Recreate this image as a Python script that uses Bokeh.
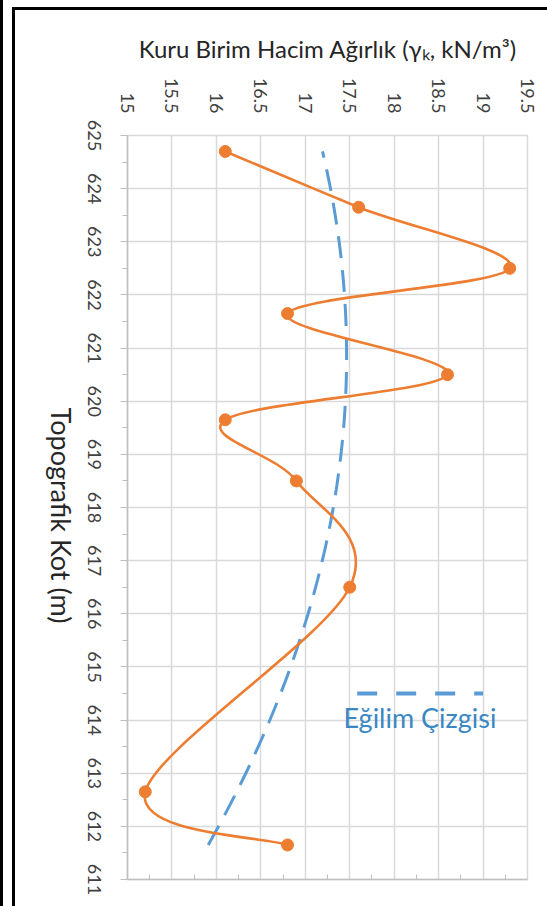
import math
import numpy as np
from bokeh.plotting import figure
from bokeh.models import Range1d, LinearAxis, FixedTicker, Label, Column, Row
from bokeh.core.properties import value
from bokeh.embed import file_html
from bokeh.resources import INLINE

# Topographic elevation (m) of each sample and its dry unit weight (kN/m3)
elevation = [624.7, 623.65, 622.5, 621.65, 620.5, 619.65, 618.5, 616.5, 612.65, 611.65]
unit_weight = [16.1, 17.6, 19.3, 16.8, 18.6, 16.1, 16.9, 17.5, 15.2, 16.8]

weight_ticks = [15, 15.5, 16, 16.5, 17, 17.5, 18, 18.5, 19, 19.5]
weight_tick_labels = ["15", "15.5", "16", "16.5", "17", "17.5", "18", "18.5", "19", "19.5"]
elev_ticks = [611, 612, 613, 614, 615, 616, 617, 618, 619, 620, 621, 622, 623, 624, 625]
elev_tick_labels = ["611", "612", "613", "614", "615", "616", "617", "618", "619",
                    "620", "621", "622", "623", "624", "625"]

legend_text = "Eğilim Çizgisi"
x_title = "Kuru Birim Hacim Ağırlık (γₖ, kN/m³)"
y_title = "Topografik Kot (m)"

FONT = "Lato"
ORANGE = "#ED7D31"
BLUE = "#5B9BD5"
GRID = "#D9D9D9"
AXIS = "#BFBFBF"
TEXT = "#404040"
TITLE = "#262626"

H = 896
TOP, BOTTOM = 125, 27
SIDE_W, MAIN_W = 102, 430
SIDE_FRAME = 64

p = figure(
    width=MAIN_W, height=H,
    x_range=Range1d(weight_ticks[0], weight_ticks[-1]),
    y_range=Range1d(elev_ticks[0], elev_ticks[-1]),
    x_axis_location="above",
    output_backend="svg", toolbar_location=None,
    min_border_left=10, min_border_top=TOP, min_border_right=20, min_border_bottom=BOTTOM,
    background_fill_color="white", border_fill_color="white",
)
p.outline_line_color = GRID
p.outline_line_width = 1.5

# top axis: weight scale, labels turned to read downward
xa = p.xaxis[0]
xa.ticker = FixedTicker(ticks=weight_ticks)
xa.major_label_overrides = {float(t): s for t, s in zip(weight_ticks, weight_tick_labels)}
xa.major_label_orientation = -math.pi / 2
xa.major_label_text_font = FONT
xa.major_label_text_font_size = "18px"
xa.major_label_text_color = TEXT
xa.major_label_standoff = 22
xa.major_tick_out = 0
xa.major_tick_in = 0
xa.minor_tick_out = 0
xa.axis_line_color = None
xa.axis_label = x_title
xa.axis_label_text_font = FONT
xa.axis_label_text_font_size = "24px"
xa.axis_label_text_font_style = "normal"
xa.axis_label_text_color = TITLE
xa.axis_label_standoff = 12

# left axis: elevation line and ticks; the labels are drawn by the side panel
ya = p.yaxis[0]
ya.ticker = FixedTicker(ticks=elev_ticks, minor_ticks=[t + 0.5 for t in elev_ticks[:-1]])
ya.major_label_text_color = None
ya.major_label_text_font_size = "1px"
ya.major_label_standoff = 0
ya.major_tick_out = 7
ya.major_tick_in = 0
ya.minor_tick_out = 5
ya.minor_tick_in = 0
ya.major_tick_line_color = AXIS
ya.minor_tick_line_color = AXIS
ya.axis_line_color = AXIS
ya.axis_line_width = 1.5

# bottom axis line with small inner ticks, no labels
bottom = LinearAxis(
    ticker=FixedTicker(ticks=weight_ticks, minor_ticks=[t + 0.25 for t in weight_ticks[:-1]]),
    major_label_text_color=None, major_label_text_font_size="1px", major_label_standoff=0,
    major_tick_in=0, major_tick_out=0, minor_tick_in=5, minor_tick_out=0,
    axis_line_color=AXIS, axis_line_width=1.5, minor_tick_line_color=AXIS,
)
p.add_layout(bottom, "below")

p.xgrid.ticker = FixedTicker(ticks=weight_ticks)
p.ygrid.ticker = FixedTicker(ticks=elev_ticks)
for g in (p.xgrid, p.ygrid):
    g.grid_line_color = GRID
    g.grid_line_width = 1.5

# quadratic trend line of weight against elevation
coef = np.polyfit(elevation, unit_weight, 2)
e_fit = np.linspace(min(elevation), max(elevation), 200)
p.line(np.polyval(coef, e_fit), e_fit, line_color=BLUE, line_width=3, line_dash="22 12")

# smoothed measurement curve: cubic Bezier pieces with Catmull-Rom tangents
P = np.column_stack([unit_weight, elevation])
padded = np.vstack([P[:1], P, P[-1:]])
T = padded[2:] - padded[:-2]
c0 = P[:-1] + T[:-1] / 6.0
c1 = P[1:] - T[1:] / 6.0
p.bezier(x0=P[:-1, 0], y0=P[:-1, 1], x1=P[1:, 0], y1=P[1:, 1],
         cx0=c0[:, 0], cy0=c0[:, 1], cx1=c1[:, 0], cy1=c1[:, 1],
         line_color=ORANGE, line_width=2.6)
p.scatter(unit_weight, elevation, size=12, fill_color=ORANGE, line_color=ORANGE)

# trend-line key
p.segment(x0=17.584, y0=614.5, x1=19.0, y1=614.5, line_color=BLUE, line_width=4,
          line_dash="20 19")
p.add_layout(Label(x=18.29, y=614.04, text=legend_text, text_align="center",
                   text_baseline="alphabetic", text_font=FONT, text_font_size="27px",
                   text_color="#3A87C4"))

# side panel on the same elevation scale: axis title, and tick labels on a right-hand
# axis so that they read downward centred on each tick
side = figure(
    width=SIDE_W, height=H,
    x_range=Range1d(0, SIDE_FRAME),
    y_range=Range1d(elev_ticks[0], elev_ticks[-1]),
    x_axis_type=None, y_axis_location="right",
    output_backend="svg", toolbar_location=None,
    min_border_left=0, min_border_right=SIDE_W - SIDE_FRAME,
    min_border_top=TOP, min_border_bottom=BOTTOM,
    background_fill_color="white", border_fill_color="white",
)
side.outline_line_color = None
side.grid.visible = False
sa = side.yaxis[0]
sa.ticker = FixedTicker(ticks=elev_ticks)
sa.major_label_overrides = {float(t): s for t, s in zip(elev_ticks, elev_tick_labels)}
sa.major_label_orientation = "vertical"
sa.major_label_text_font = FONT
sa.major_label_text_font_size = "18px"
sa.major_label_text_color = TEXT
sa.major_label_standoff = 8
sa.major_tick_out = 0
sa.major_tick_in = 0
sa.minor_tick_out = 0
sa.minor_tick_in = 0
sa.axis_line_color = None

side.text(x=[46], y=[(elev_ticks[0] + elev_ticks[-1]) / 2 - 0.15], text=[y_title],
          angle=-math.pi / 2, text_align="center", text_baseline="middle",
          text_font=value(FONT), text_font_size="27px", text_color=TITLE)

inner = Row(children=[side, p], spacing=0,
            styles={"border-left": "3px solid black", "border-top": "3px solid black"})
page = Column(children=[inner], styles={
    "border-left": "3px solid black", "padding-left": "9px", "padding-top": "7px",
    "background-color": "white"})

open("out.html", "w").write(file_html(page, INLINE))
